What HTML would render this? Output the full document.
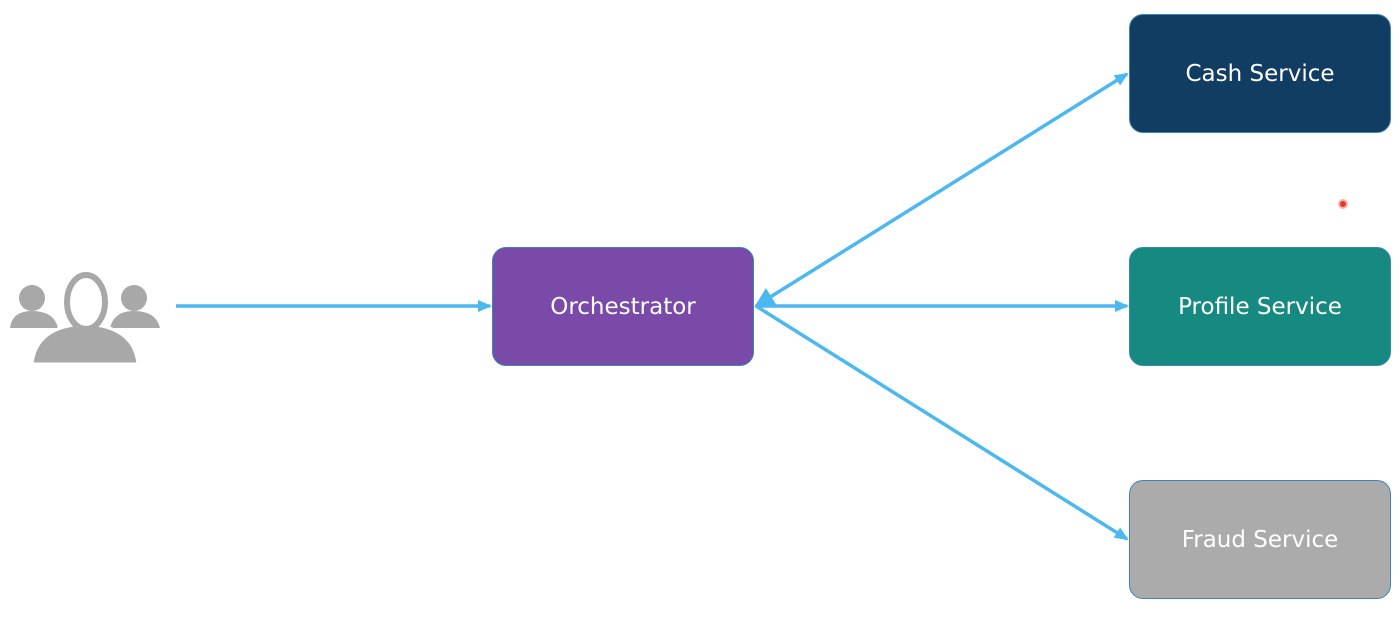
<!DOCTYPE html>
<html><head><style>
body{margin:0;width:1400px;height:622px;background:#fff;overflow:hidden;font-family:"DejaVu Sans","Liberation Sans",sans-serif}
.box{position:absolute;width:262px;height:119px;border:1.5px solid #3a86b8;border-radius:14px;color:#fff;font-size:23px;display:flex;align-items:center;justify-content:center;box-sizing:border-box}
</style></head><body>
<svg width="1400" height="622" style="position:absolute;left:0;top:0">
<defs><marker id="a" markerWidth="14" markerHeight="14" refX="12" refY="7" orient="auto" markerUnits="userSpaceOnUse"><path d="M0,1 L14,7 L0,13 Z" fill="#4bb8f0"/></marker>
<marker id="b" markerWidth="20" markerHeight="20" refX="18" refY="10" orient="auto-start-reverse" markerUnits="userSpaceOnUse"><path d="M0,0 L20,10 L0,20 Z" fill="#4bb8f0"/></marker></defs>
<g fill="#a8a8a8">
<circle cx="32" cy="298" r="13"/><path d="M10,328 Q12,311 32,311 Q54,311 58,328 Z"/>
<circle cx="134" cy="298" r="13"/><path d="M110,328 Q114,311 134,311 Q156,311 160,328 Z"/>
<path d="M32,364 Q36,326 85,324 Q134,326 138,364 Z" stroke="#fff" stroke-width="3"/>
<ellipse cx="86" cy="302" rx="19" ry="27" fill="#fff" stroke="#a8a8a8" stroke-width="6"/>
</g>
<g stroke="#4bb8f0" stroke-width="3.5" fill="none">
<line x1="176" y1="306" x2="490" y2="306" marker-end="url(#a)"/>
<line x1="756" y1="306" x2="1127" y2="74" marker-end="url(#a)" marker-start="url(#b)"/>
<line x1="756" y1="306" x2="1127" y2="306" marker-end="url(#a)"/>
<line x1="756" y1="306" x2="1127" y2="539" marker-end="url(#a)"/>
</g>
<circle cx="1343" cy="204" r="4" fill="#e23b2c" stroke="#f6b3ad" stroke-width="2"/>
</svg>
<div class="box" style="left:492px;top:247px;background:#7a4aa8">Orchestrator</div>
<div class="box" style="left:1129px;top:14px;background:#123d63">Cash Service</div>
<div class="box" style="left:1129px;top:247px;background:#168a80">Profile Service</div>
<div class="box" style="left:1129px;top:480px;background:#ababab">Fraud Service</div>
</body></html>
